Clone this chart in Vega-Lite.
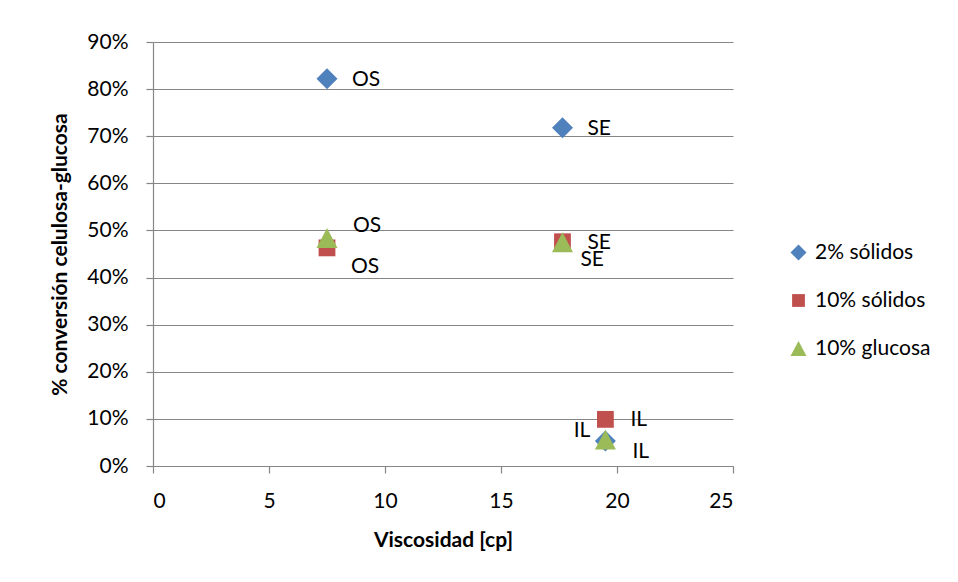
{
  "$schema": "https://vega.github.io/schema/vega-lite/v6.json",
  "width": 580,
  "height": 424,
  "autosize": {"type": "none"},
  "padding": {"left": 153, "top": 42, "right": 225, "bottom": 116},
  "background": "white",
  "config": {
    "view": {"stroke": null},
    "font": "Lato",
    "axis": {
      "domainColor": "#868686",
      "tickColor": "#868686",
      "gridColor": "#868686",
      "gridWidth": 1.2,
      "domainWidth": 1.2,
      "tickWidth": 1.2,
      "tickSize": 7,
      "labelFont": "Lato",
      "labelFontSize": 21,
      "labelColor": "black",
      "titleFont": "Lato",
      "titleFontSize": 21,
      "titleFontWeight": "bold",
      "titleColor": "black"
    },
    "legend": {
      "padding": 0,
      "labelFont": "Lato",
      "labelFontSize": 21,
      "labelColor": "black",
      "labelOffset": 6,
      "symbolSize": 256,
      "symbolStrokeWidth": 0,
      "rowPadding": 26
    }
  },
  "data": {
    "values": [
      {"serie": "2% sólidos", "trat": "OS", "visc": 7.5, "conv": 0.822},
      {"serie": "2% sólidos", "trat": "SE", "visc": 17.65, "conv": 0.718},
      {"serie": "2% sólidos", "trat": "IL", "visc": 19.5, "conv": 0.053},
      {"serie": "10% sólidos", "trat": "OS", "visc": 7.5, "conv": 0.463},
      {"serie": "10% sólidos", "trat": "SE", "visc": 17.65, "conv": 0.476},
      {"serie": "10% sólidos", "trat": "IL", "visc": 19.5, "conv": 0.099},
      {"serie": "10% glucosa", "trat": "OS", "visc": 7.5, "conv": 0.484},
      {"serie": "10% glucosa", "trat": "SE", "visc": 17.65, "conv": 0.475},
      {"serie": "10% glucosa", "trat": "IL", "visc": 19.5, "conv": 0.056}
    ]
  },
  "encoding": {
    "x": {
      "field": "visc",
      "type": "quantitative",
      "title": "Viscosidad [cp]",
      "scale": {"domain": [0, 25], "nice": false, "zero": true},
      "axis": {"values": [0, 5, 10, 15, 20, 25], "grid": false, "labelPadding": 17, "titlePadding": 18}
    },
    "y": {
      "field": "conv",
      "type": "quantitative",
      "title": "% conversión  celulosa-glucosa",
      "scale": {"domain": [0, 0.9], "nice": false},
      "axis": {
        "values": [0, 0.1, 0.2, 0.3, 0.4, 0.5, 0.6, 0.7, 0.8, 0.9],
        "format": ".0%",
        "grid": true,
        "labelPadding": 18,
        "titlePadding": 16
      }
    }
  },
  "layer": [
    {
      "mark": {"type": "point", "filled": true, "opacity": 1, "strokeWidth": 0, "size": 441},
      "encoding": {
        "color": {
          "field": "serie",
          "type": "nominal",
          "title": null,
          "scale": {"domain": ["2% sólidos", "10% sólidos", "10% glucosa"], "range": ["#4F81BD", "#C0504D", "#9BBB59"]},
          "legend": {"orient": "none", "legendX": 635, "legendY": 200, "title": null}
        },
        "shape": {
          "field": "serie",
          "type": "nominal",
          "title": null,
          "scale": {
            "domain": ["2% sólidos", "10% sólidos", "10% glucosa"],
            "range": [
              "M0,-1L1,0L0,1L-1,0Z",
              "M-0.8,-0.8L0.8,-0.8L0.8,0.8L-0.8,0.8Z",
              "M0,-0.95L1,0.95L-1,0.95Z"
            ]
          }
        }
      }
    },
    {
      "transform": [{"filter": "(datum.serie == '2% sólidos' && datum.trat != 'IL') || (datum.serie == '10% sólidos' && datum.trat != 'OS')"}],
      "mark": {"type": "text", "align": "left", "baseline": "middle", "dx": 25, "dy": 1, "fontSize": 21, "font": "Lato", "color": "black"},
      "encoding": {"text": {"field": "trat"}}
    },
    {
      "transform": [{"filter": "datum.serie == '2% sólidos' && datum.trat == 'IL'"}],
      "mark": {"type": "text", "align": "right", "baseline": "middle", "dx": -15, "dy": -10, "fontSize": 21, "font": "Lato", "color": "black"},
      "encoding": {"text": {"field": "trat"}}
    },
    {
      "transform": [{"filter": "datum.serie == '10% sólidos' && datum.trat == 'OS'"}],
      "mark": {"type": "text", "align": "left", "baseline": "middle", "dx": 24, "dy": 19, "fontSize": 21, "font": "Lato", "color": "black"},
      "encoding": {"text": {"field": "trat"}}
    },
    {
      "transform": [{"filter": "datum.serie == '10% glucosa' && datum.trat == 'OS'"}],
      "mark": {"type": "text", "align": "left", "baseline": "middle", "dx": 26, "dy": -12, "fontSize": 21, "font": "Lato", "color": "black"},
      "encoding": {"text": {"field": "trat"}}
    },
    {
      "transform": [{"filter": "datum.serie == '10% glucosa' && datum.trat == 'SE'"}],
      "mark": {"type": "text", "align": "left", "baseline": "middle", "dx": 18, "dy": 18, "fontSize": 21, "font": "Lato", "color": "black"},
      "encoding": {"text": {"field": "trat"}}
    },
    {
      "transform": [{"filter": "datum.serie == '10% glucosa' && datum.trat == 'IL'"}],
      "mark": {"type": "text", "align": "left", "baseline": "middle", "dx": 27, "dy": 12, "fontSize": 21, "font": "Lato", "color": "black"},
      "encoding": {"text": {"field": "trat"}}
    }
  ]
}
